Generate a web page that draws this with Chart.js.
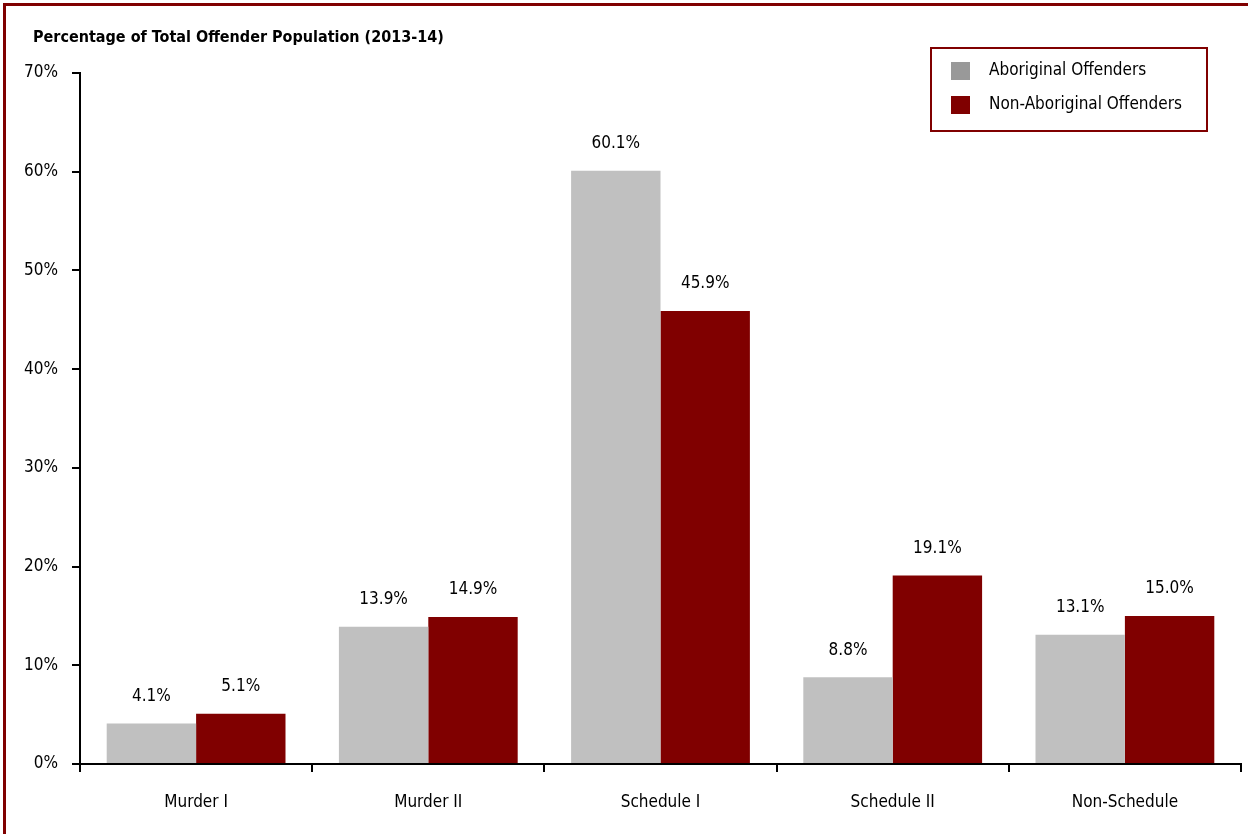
<!DOCTYPE html>
<html>
<head>
<meta charset="utf-8">
<script src="https://cdn.jsdelivr.net/npm/chart.js@4.4.1/dist/chart.umd.min.js"></script>
<style>
html,body{margin:0;padding:0;background:#fff;}
#wrap{position:relative;width:1248px;height:834px;}
</style>
</head>
<body>
<div id="wrap"><canvas id="c" width="1248" height="834"></canvas></div>
<script>
const categories = ["Murder I", "Murder II", "Schedule I", "Schedule II", "Non-Schedule"];
const aboriginal = [4.1, 13.9, 60.1, 8.8, 13.1];
const nonAboriginal = [5.1, 14.9, 45.9, 19.1, 15.0];
const seriesNames = ["Aboriginal Offenders", "Non-Aboriginal Offenders"];
const yTicks = [0, 10, 20, 30, 40, 50, 60, 70];
const chartTitle = "Percentage of Total Offender Population (2013-14)";

const FONT = "'Liberation Sans Narrow', 'Arial Narrow', 'DejaVu Sans Condensed', 'Liberation Sans', sans-serif";
const GRAY = "#C0C0C0", RED = "#800000", LEGEND_GRAY = "#999999";

const decor = {
  id: 'decor',
  afterDraw(chart) {
    const ctx = chart.ctx;
    ctx.save();
    // page border (left and top)
    ctx.fillStyle = RED;
    ctx.fillRect(3, 3, 1245, 3);
    ctx.fillRect(3, 3, 3, 831);
    // title
    ctx.fillStyle = "#000";
    ctx.font = "bold 16px " + FONT;
    ctx.textAlign = "left";
    ctx.textBaseline = "middle";
    ctx.fillText(chartTitle, 33, 38);
    // data labels
    ctx.font = "17px " + FONT;
    ctx.textAlign = "center";
    ctx.textBaseline = "middle";
    chart.data.datasets.forEach((ds, i) => {
      chart.getDatasetMeta(i).data.forEach((bar, j) => {
        ctx.fillText(ds.data[j].toFixed(1) + "%", bar.x, bar.y - 27);
      });
    });
    // legend
    ctx.strokeStyle = RED;
    ctx.lineWidth = 2;
    ctx.strokeRect(931, 48, 276, 83);
    const sw = [LEGEND_GRAY, RED];
    chart.data.datasets.forEach((ds, i) => {
      const y = 71 + i * 34;
      ctx.fillStyle = sw[i];
      ctx.fillRect(951, y - 9, 19, 18);
      ctx.fillStyle = "#000";
      ctx.textAlign = "left";
      ctx.fillText(ds.label, 989, y);
    });
    ctx.restore();
  }
};

new Chart(document.getElementById('c'), {
  type: 'bar',
  data: {
    labels: categories,
    datasets: [
      { label: seriesNames[0], data: aboriginal, backgroundColor: GRAY, borderWidth: 0 },
      { label: seriesNames[1], data: nonAboriginal, backgroundColor: RED, borderWidth: 0 }
    ]
  },
  options: {
    responsive: false,
    animation: false,
    layout: { padding: { top: 73, right: 7, left: 0, bottom: 0 } },
    plugins: { legend: { display: false }, tooltip: { enabled: false }, title: { display: false } },
    datasets: { bar: { categoryPercentage: 0.77, barPercentage: 1.0 } },
    scales: {
      x: {
        grid: { display: true, drawOnChartArea: false, drawTicks: true, tickLength: 8, color: "#000", lineWidth: 2, offset: true },
        border: { display: true, color: "#000", width: 2 },
        ticks: { color: "#000", font: { family: FONT, size: 17 }, padding: 20 },
        afterFit(s) { s.height = 70; }
      },
      y: {
        min: 0, max: 70,
        afterBuildTicks(s) { s.ticks = yTicks.map(v => ({ value: v })); },
        grid: { display: true, drawOnChartArea: false, drawTicks: true, tickLength: 8, color: "#000", lineWidth: 2 },
        border: { display: true, color: "#000", width: 2 },
        ticks: { color: "#000", font: { family: FONT, size: 17 }, padding: 14, callback: v => v + "%" },
        afterFit(s) { s.width = 80; }
      }
    }
  },
  plugins: [decor]
});
</script>
</body>
</html>
